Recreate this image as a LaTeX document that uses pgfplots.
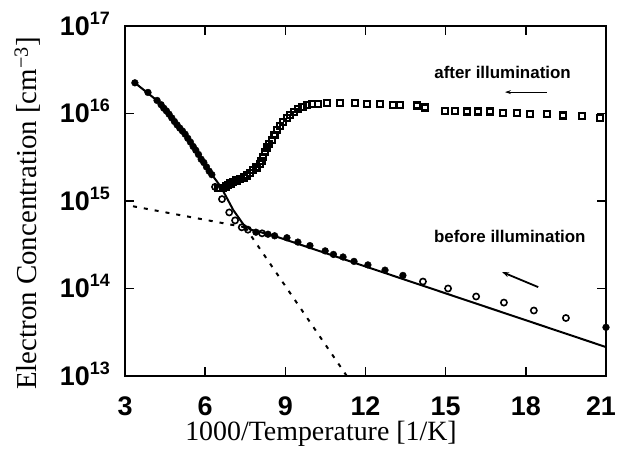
\documentclass[border=0pt]{standalone}
\usepackage{fontspec}
\setmainfont{Liberation Serif}
\newfontfamily\tickfont{Liberation Sans}
\usepackage{pgfplots}
\pgfplotsset{compat=1.18}
\usetikzlibrary{arrows.meta}

% superscript exponent for the tick labels, kept out of the label's height
\newcommand\ex[1]{\smash{\raisebox{11bp}{\fontsize{18}{18}\selectfont #1}}}

\begin{document}
\begin{tikzpicture}
\begin{axis}[
  scale only axis,
  width=481bp, height=350bp,
  xmin=3, xmax=21,
  ymode=log, ymin=1e13, ymax=1e17,
  xtick={3,6,9,12,15,18,21},
  xticklabels={3,6,9,12,15,18,\hbox to 40bp{21\hfil}},
  ytick={1e13,1e14,1e15,1e16,1e17},
  yticklabels={10\ex{13},10\ex{14},10\ex{15},10\ex{16},10\ex{17}},
  yminorticks=false,
  tick align=inside,
  major tick length=9bp,
  every tick/.style={line width=1.4bp, black},
  axis line style={line width=2.2bp},
  xticklabel style={font=\tickfont\bfseries\fontsize{27}{27}\selectfont, inner sep=0pt, yshift=-21bp},
  yticklabel style={font=\tickfont\bfseries\fontsize{27}{27}\selectfont, inner sep=0pt, xshift=-15bp},
  clip=false,
]
% fits: thermally activated (steep) and shallow level
\addplot[black, line width=2bp] coordinates {
  (3.37,2.24e16) (4.31,1.32e16) (5.31,5.4e15) (6.12,2.26e15) (6.59,1.45e15)
  (7.05,7.9e14) (7.43,5.4e14) (7.7,4.7e14) (8.5,4.07e14) (21,2.14e13)
};
\addplot[black, line width=2bp, dash pattern=on 4bp off 7bp] coordinates {
  (3.3,8.7e14) (7.5,5.0e14)
};
\addplot[black, line width=2bp, dash pattern=on 4bp off 7bp] coordinates {
  (7.5,5.0e14) (11.3,1.0e13)
};

% before illumination, filled points
\addplot[only marks, mark=*, mark size=3.4bp, black] coordinates {
  (3.37,2.24e16) (3.86,1.74e16) (4.2,1.41e16) (4.35,1.26e16) (4.45,1.15e16)
  (4.55,1.07e16) (4.65,9.8e15) (4.75,8.9e15) (4.85,8.1e15) (4.95,7.4e15)
  (5.05,6.8e15) (5.15,6.3e15) (5.25,5.8e15) (5.35,5.2e15) (5.45,4.7e15)
  (5.55,4.2e15) (5.65,3.8e15) (5.75,3.4e15) (5.85,3.0e15) (5.95,2.75e15)
  (6.05,2.45e15) (6.15,2.19e15) (6.25,2.0e15)
  (7.9,4.4e14) (8.35,4.17e14) (8.6,4.0e14) (9.06,3.8e14) (9.47,3.39e14)
  (9.92,3.09e14) (10.49,2.69e14) (10.8,2.45e14) (11.16,2.29e14) (11.57,2.04e14)
  (12.09,1.86e14) (12.73,1.62e14) (13.4,1.41e14) (21.0,3.6e13)
};
% before illumination, open points
\addplot[only marks, mark=o, mark size=3.1bp, line width=1.6bp, black] coordinates {
  (6.37,1.45e15) (6.63,1.05e15) (6.9,7.4e14) (7.12,6.0e14) (7.37,5.0e14)
  (7.6,4.7e14) (8.13,4.27e14)
  (14.15,1.2e14) (15.09,1.0e14) (16.14,8.1e13) (17.18,6.9e13)
  (18.3,5.6e13) (19.5,4.6e13)
};
% after illumination
\addplot[only marks, mark=square, mark size=3.0bp, line width=2.3bp, black] coordinates {
  (6.5,1.42e15) (6.67,1.41e15) (6.77,1.46e15) (6.85,1.51e15) (6.95,1.58e15)
  (7.04,1.66e15) (7.17,1.72e15) (7.30,1.78e15) (7.45,1.86e15) (7.57,1.95e15)
  (7.68,2.08e15) (7.79,2.24e15) (7.92,2.42e15) (8.05,2.63e15) (8.11,2.85e15)
  (8.16,3.16e15) (8.24,3.6e15) (8.31,4.07e15) (8.40,4.5e15) (8.50,5.0e15)
  (8.6,5.7e15) (8.69,6.46e15) (8.8,7.2e15) (8.91,7.94e15) (9.05,8.8e15)
  (9.18,9.55e15) (9.32,1.04e16) (9.47,1.12e16) (9.64,1.19e16) (9.81,1.26e16)
  (10.0,1.28e16) (10.22,1.29e16) (10.56,1.32e16) (11.05,1.32e16) (11.61,1.32e16)
  (12.06,1.29e16) (12.54,1.29e16) (13.03,1.26e16) (13.29,1.26e16) (13.93,1.23e16)
  (14.23,1.17e16) (14.98,1.07e16) (15.35,1.07e16) (15.80,1.05e16) (16.21,1.05e16)
  (16.66,1.05e16) (17.15,1.02e16) (17.67,1.02e16) (18.16,9.8e15) (18.79,9.8e15)
  (19.39,9.5e15) (20.10,9.3e15) (20.78,8.9e15)
};

% annotations
\node[anchor=base, font=\tickfont\bfseries\fontsize{17}{17}\selectfont]
  at (axis description cs:0.785,0.851) {after illumination};
\draw[-{Stealth[length=6bp,width=4bp]}, line width=1.2bp]
  (axis description cs:0.877,0.811) -- (axis description cs:0.790,0.811);
\node[anchor=base, font=\tickfont\bfseries\fontsize{17}{17}\selectfont]
  at (axis description cs:0.800,0.380) {before illumination};
\draw[-{Stealth[length=7bp,width=5bp]}, line width=1.8bp]
  (axis description cs:0.859,0.254) -- (axis description cs:0.784,0.297);

% axis titles
\node[anchor=base, font=\fontsize{28}{28}\selectfont]
  at (axis description cs:0.4075,-0.1857) {1000/Temperature [1/K]};
\node[anchor=base, rotate=90, font=\fontsize{29}{29}\selectfont]
  at (axis description cs:-0.183,0.464) {Electron Concentration [cm\textsuperscript{−3}]};

\coordinate (sw) at (rel axis cs:0,0);
\end{axis}
\pgfresetboundingbox
\path[use as bounding box] (sw) ++(-125bp,-88bp) rectangle ++(618bp,464bp);
\end{tikzpicture}
\end{document}
